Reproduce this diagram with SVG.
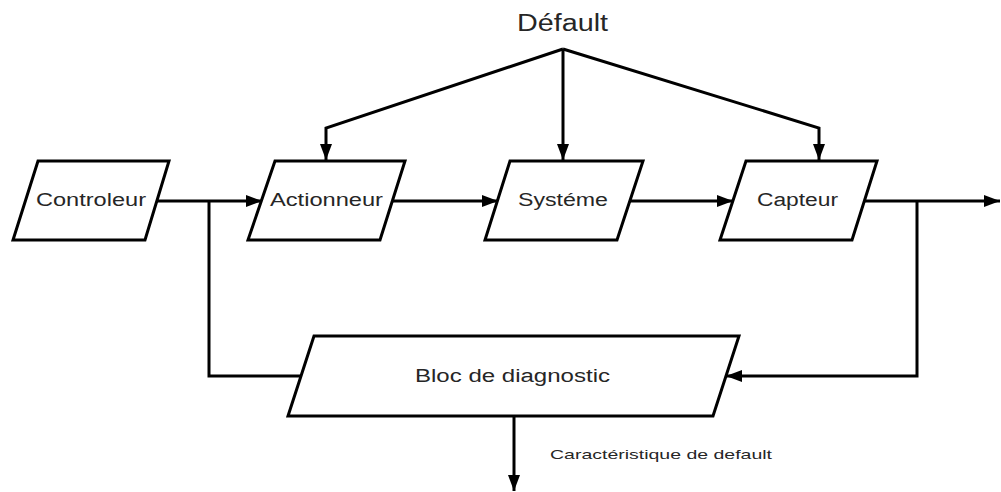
<svg xmlns="http://www.w3.org/2000/svg" width="1001" height="492" viewBox="0 0 1001 492">
  <style>
    .box { fill: #ffffff; stroke: #000000; stroke-width: 3; stroke-linejoin: miter; }
    .wire { fill: none; stroke: #000000; stroke-width: 3; }
    .lbl { font-family: "Liberation Sans", Arial, sans-serif; font-size: 18px; fill: #262626; text-anchor: middle; }
    .title { font-family: "Liberation Sans", Arial, sans-serif; font-size: 23px; fill: #262626; text-anchor: middle; }
    .note { font-family: "Liberation Sans", Arial, sans-serif; font-size: 13.5px; fill: #262626; }
  </style>
  <defs>
    <marker id="arrow" markerUnits="userSpaceOnUse" markerWidth="17" markerHeight="13" refX="16" refY="6.5" orient="auto">
      <path d="M0,0.5 L16,6.5 L0,12.5 z" fill="#000000"/>
    </marker>
  </defs>
  <rect width="1001" height="492" fill="#ffffff"/>

  <!-- signal lines -->
  <g id="connectors">
    <!-- fault injection from the top -->
    <polyline class="wire" points="563,49 326,128 326,160" marker-end="url(#arrow)"/>
    <line class="wire" x1="563" y1="49" x2="563" y2="160" marker-end="url(#arrow)"/>
    <polyline class="wire" points="563,49 819,128 819,160" marker-end="url(#arrow)"/>
    <!-- main chain -->
    <line class="wire" x1="157" y1="201" x2="262" y2="201" marker-end="url(#arrow)"/>
    <line class="wire" x1="393" y1="201" x2="498" y2="201" marker-end="url(#arrow)"/>
    <line class="wire" x1="630" y1="201" x2="733" y2="201" marker-end="url(#arrow)"/>
    <line class="wire" x1="865" y1="201" x2="1000" y2="201" marker-end="url(#arrow)"/>
    <!-- feedback into the diagnostic block -->
    <polyline class="wire" points="209,201 209,376 301,376"/>
    <polyline class="wire" points="917,201 917,376 726,376" marker-end="url(#arrow)"/>
    <!-- diagnostic output -->
    <line class="wire" x1="514" y1="416" x2="514" y2="491" marker-end="url(#arrow)"/>
  </g>

  <g id="defaut">
    <text class="title" x="562.5" y="31" textLength="91" lengthAdjust="spacingAndGlyphs">Défault</text>
  </g>

  <g id="controleur">
    <polygon class="box" points="38,161 169,161 145,240 13,240"/>
    <text class="lbl" x="91" y="206" textLength="110" lengthAdjust="spacingAndGlyphs">Controleur</text>
  </g>

  <g id="actionneur">
    <polygon class="box" points="275,161 405,161 380,240 248,240"/>
    <text class="lbl" x="326.5" y="206" textLength="113" lengthAdjust="spacingAndGlyphs">Actionneur</text>
  </g>

  <g id="systeme">
    <polygon class="box" points="510,161 643,161 617,240 485,240"/>
    <text class="lbl" x="563" y="206" textLength="90" lengthAdjust="spacingAndGlyphs">Systéme</text>
  </g>

  <g id="capteur">
    <polygon class="box" points="746,161 877,161 852,240 720,240"/>
    <text class="lbl" x="797.5" y="206" textLength="81" lengthAdjust="spacingAndGlyphs">Capteur</text>
  </g>

  <g id="diagnostic">
    <polygon class="box" points="314,336 739,336 713,416 288,416"/>
    <text class="lbl" x="512.5" y="382" textLength="195" lengthAdjust="spacingAndGlyphs">Bloc de diagnostic</text>
  </g>

  <g id="caracteristique">
    <text class="note" x="550" y="459" textLength="222" lengthAdjust="spacingAndGlyphs">Caractéristique de default</text>
  </g>
</svg>
